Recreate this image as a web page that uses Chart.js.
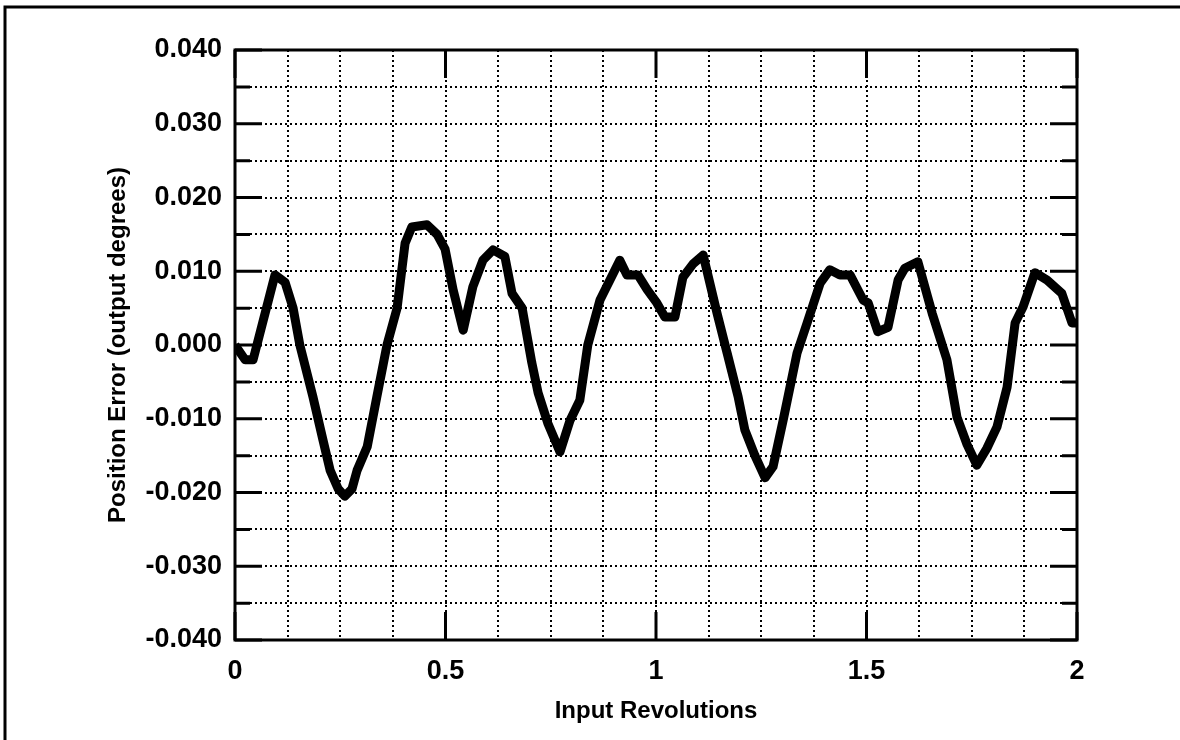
<!DOCTYPE html>
<html>
<head>
<meta charset="utf-8">
<title>Position Error vs Input Revolutions</title>
<script src="https://cdn.jsdelivr.net/npm/chart.js@4/dist/chart.umd.min.js"></script>
<style>
  html, body { margin: 0; padding: 0; background: #fff; }
  #wrap { width: 1180px; height: 740px; }
</style>
</head>
<body>
<div id="wrap"><canvas id="chart" width="1180" height="740"></canvas></div>
<script>
// input revolutions (x) and position error in output degrees (y)
const revolutions = [
  0.000, 0.024, 0.043, 0.095, 0.119, 0.138, 0.154, 0.185, 0.209, 0.226,
  0.245, 0.261, 0.278, 0.290, 0.314, 0.337, 0.361, 0.385, 0.404, 0.420,
  0.456, 0.480, 0.499, 0.518, 0.542, 0.565, 0.589, 0.613, 0.641, 0.658,
  0.682, 0.705, 0.720, 0.743, 0.772, 0.796, 0.819, 0.838, 0.867, 0.914,
  0.931, 0.957, 0.979, 1.002, 1.021, 1.045, 1.064, 1.088, 1.112, 1.145,
  1.169, 1.195, 1.211, 1.235, 1.259, 1.278, 1.302, 1.335, 1.359, 1.390,
  1.413, 1.437, 1.461, 1.492, 1.504, 1.527, 1.551, 1.575, 1.591, 1.622,
  1.656, 1.691, 1.715, 1.739, 1.762, 1.786, 1.810, 1.834, 1.853, 1.872,
  1.900, 1.929, 1.964, 1.988, 2.000
];
const positionError = [
  0.0000, -0.0020, -0.0020, 0.0095, 0.0085, 0.0050, 0.0000, -0.0070, -0.0129, -0.0170,
  -0.0195, -0.0205, -0.0195, -0.0170, -0.0138, -0.0070, 0.0000, 0.0050, 0.0138, 0.0160,
  0.0163, 0.0150, 0.0130, 0.0075, 0.0020, 0.0079, 0.0115, 0.0129, 0.0120, 0.0070,
  0.0050, -0.0024, -0.0065, -0.0106, -0.0145, -0.0102, -0.0075, 0.0000, 0.0061, 0.0115,
  0.0095, 0.0095, 0.0075, 0.0057, 0.0038, 0.0038, 0.0092, 0.0110, 0.0122, 0.0043,
  -0.0011, -0.0070, -0.0115, -0.0150, -0.0180, -0.0165, -0.0102, -0.0011, 0.0030, 0.0084,
  0.0102, 0.0095, 0.0095, 0.0061, 0.0057, 0.0018, 0.0024, 0.0088, 0.0104, 0.0113,
  0.0043, -0.0020, -0.0098, -0.0135, -0.0163, -0.0140, -0.0111, -0.0057, 0.0030, 0.0052,
  0.0098, 0.0088, 0.0070, 0.0030, 0.0030
];
const xTickLabels = ['0', '0.5', '1', '1.5', '2'];
const yTickLabels = ['-0.040', '-0.030', '-0.020', '-0.010', '0.000', '0.010', '0.020', '0.030', '0.040'];

const FONT = "'Liberation Sans', Arial, Helvetica, sans-serif";

// solid plot frame, inside tick marks and the page frame
const framePlugin = {
  id: 'frame',
  beforeDraw(chart) {
    const ctx = chart.ctx;
    ctx.save();
    ctx.strokeStyle = '#000';
    ctx.lineWidth = 3;
    ctx.beginPath();
    ctx.moveTo(5, 740);
    ctx.lineTo(5, 7);
    ctx.lineTo(1180, 7);
    ctx.stroke();
    ctx.restore();
  },
  afterDraw(chart) {
    const { ctx, chartArea: a, scales } = chart;
    ctx.save();
    ctx.strokeStyle = '#000';
    ctx.lineWidth = 3;
    ctx.strokeRect(a.left, a.top, a.right - a.left, a.bottom - a.top);
    ctx.beginPath();
    scales.y.ticks.forEach(t => {
      const y = scales.y.getPixelForValue(t.value);
      const major = Math.abs(t.value * 100 - Math.round(t.value * 100)) < 1e-6;
      const len = major ? 27 : 15;
      ctx.moveTo(a.left, y); ctx.lineTo(a.left + len, y);
      ctx.moveTo(a.right, y); ctx.lineTo(a.right - len, y);
    });
    scales.x.ticks.forEach(t => {
      const major = Math.abs(t.value * 2 - Math.round(t.value * 2)) < 1e-6;
      if (!major) return;
      const x = scales.x.getPixelForValue(t.value);
      ctx.moveTo(x, a.bottom); ctx.lineTo(x, a.bottom - 28);
      ctx.moveTo(x, a.top); ctx.lineTo(x, a.top + 28);
    });
    ctx.stroke();
    ctx.restore();
  }
};

const ctx = document.getElementById('chart').getContext('2d');
new Chart(ctx, {
  type: 'scatter',
  data: {
    datasets: [{
      label: 'Position Error',
      data: revolutions.map((r, i) => ({ x: r, y: positionError[i] })),
      showLine: true,
      borderColor: '#000',
      borderWidth: 9,
      borderJoinStyle: 'round',
      borderCapStyle: 'butt',
      pointRadius: 0,
      tension: 0
    }]
  },
  options: {
    responsive: false,
    animation: false,
    layout: { padding: { left: 0, top: 50, right: 103, bottom: 0 } },
    plugins: { legend: { display: false }, tooltip: { enabled: false } },
    scales: {
      x: {
        type: 'linear',
        min: 0,
        max: 2,
        afterFit(scale) { scale.height = 100; },
        ticks: {
          stepSize: 0.125,
          autoSkip: false,
          maxRotation: 0,
          padding: 15,
          color: '#000',
          font: { family: FONT, size: 27, weight: 'bold' },
          callback(v) {
            const k = v * 2;
            return Math.abs(k - Math.round(k)) < 1e-6 ? xTickLabels[Math.round(k)] : '';
          }
        },
        grid: { color: '#000', lineWidth: 2, drawTicks: false },
        border: { display: false, dash: [2, 3] },
        title: {
          display: true,
          text: 'Input Revolutions',
          color: '#000',
          font: { family: FONT, size: 24, weight: 'bold' },
          padding: { top: 0, bottom: 14 }
        }
      },
      y: {
        type: 'linear',
        min: -0.04,
        max: 0.04,
        afterFit(scale) { scale.width = 235; },
        ticks: {
          stepSize: 0.005,
          autoSkip: false,
          padding: 13,
          color: '#000',
          font: { family: FONT, size: 27, weight: 'bold' },
          callback(v) {
            const k = v * 100;
            return Math.abs(k - Math.round(k)) < 1e-6 ? yTickLabels[Math.round(k) + 4] : '';
          }
        },
        grid: { color: '#000', lineWidth: 2, drawTicks: false },
        border: { display: false, dash: [2, 3] },
        title: {
          display: true,
          text: 'Position Error (output degrees)',
          color: '#000',
          font: { family: FONT, size: 24, weight: 'bold' },
          padding: { top: 104, bottom: 0 }
        }
      }
    }
  },
  plugins: [framePlugin]
});
</script>
</body>
</html>
